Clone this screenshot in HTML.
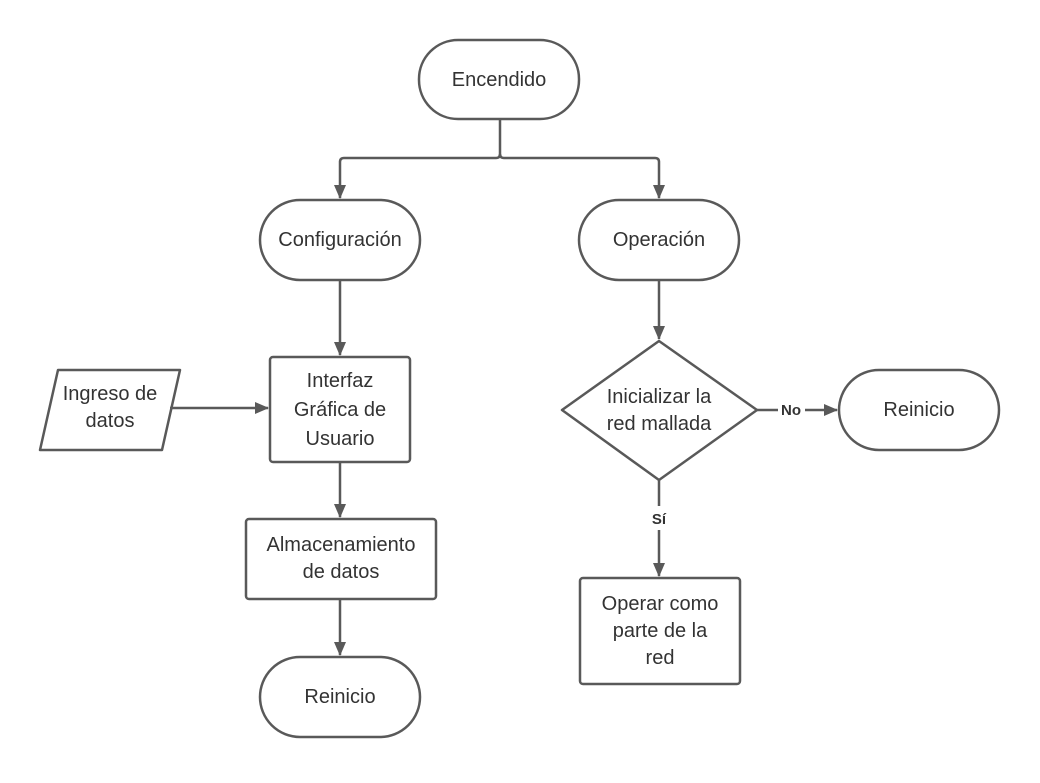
<!DOCTYPE html>
<html><head><style>
body{margin:0;background:#fff;}
svg text{font-family:"Liberation Sans",sans-serif;font-size:20px;fill:#333;}
</style></head><body>
<svg width="1040" height="778" viewBox="0 0 1040 778" xmlns="http://www.w3.org/2000/svg">
<defs><marker id="a" markerWidth="14" markerHeight="14" refX="13" refY="7" orient="auto" markerUnits="userSpaceOnUse"><path d="M0,1 L14,7 L0,13 z" fill="#595959"/></marker></defs>
<g fill="none" stroke="#595959" stroke-width="2.5">
<rect x="419" y="40" width="160" height="79" rx="39"/>
<rect x="260" y="200" width="160" height="80" rx="40"/>
<rect x="579" y="200" width="160" height="80" rx="40"/>
<rect x="270" y="357" width="140" height="105" rx="3"/>
<path d="M58,370 L180,370 L162,450 L40,450 Z" stroke-linejoin="round"/>
<rect x="246" y="519" width="190" height="80" rx="3"/>
<rect x="260" y="657" width="160" height="80" rx="40"/>
<path d="M659,341 L757,410 L659,480 L562,410 Z" stroke-linejoin="round"/>
<rect x="839" y="370" width="160" height="80" rx="40"/>
<rect x="580" y="578" width="160" height="106" rx="3"/>
<path d="M500,119 V154 Q500,158 496,158 H344 Q340,158 340,162 V198" marker-end="url(#a)"/>
<path d="M500,154 Q500,158 504,158 H655 Q659,158 659,162 V198" marker-end="url(#a)"/>
<path d="M340,280 V355" marker-end="url(#a)"/>
<path d="M170,408 H268" marker-end="url(#a)"/>
<path d="M340,462 V517" marker-end="url(#a)"/>
<path d="M340,599 V655" marker-end="url(#a)"/>
<path d="M659,280 V339" marker-end="url(#a)"/>
<path d="M757,410 H778 M805,410 H837" marker-end="url(#a)"/>
<path d="M659,480 V506 M659,530 V576" marker-end="url(#a)"/>
</g>
<g text-anchor="middle">
<text x="499" y="86">Encendido</text>
<text x="340" y="246">Configuración</text>
<text x="659" y="246">Operación</text>
<text x="340" y="387">Interfaz</text>
<text x="340" y="416">Gráfica de</text>
<text x="340" y="445">Usuario</text>
<text x="110" y="400">Ingreso de</text>
<text x="110" y="427">datos</text>
<text x="341" y="551">Almacenamiento</text>
<text x="341" y="578">de datos</text>
<text x="340" y="703">Reinicio</text>
<text x="659" y="403">Inicializar la</text>
<text x="659" y="430">red mallada</text>
<text x="919" y="416">Reinicio</text>
<text x="660" y="610">Operar como</text>
<text x="660" y="637">parte de la</text>
<text x="660" y="664">red</text>
<text x="791" y="415" style="font-size:15px;font-weight:bold">No</text>
<text x="659" y="524" style="font-size:15px;font-weight:bold">Sí</text>
</g>
</svg>
</body></html>
